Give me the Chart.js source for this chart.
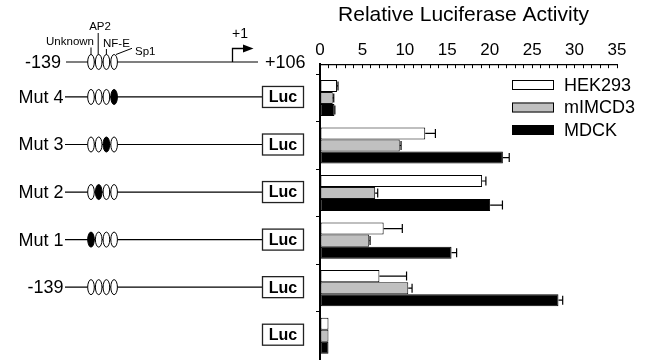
<!DOCTYPE html>
<html><head><meta charset="utf-8">
<script src="https://cdn.jsdelivr.net/npm/chart.js@4.4.1/dist/chart.umd.min.js"></script>
<style>html,body{margin:0;padding:0;background:#fff;}#wrap{width:649px;height:360px;}</style>
</head><body><div id="wrap"><canvas id="c" width="649" height="360"></canvas></div>
<script>
// ---- data ----
const categories = ['Mut 4', 'Mut 3', 'Mut 2', 'Mut 1', '-139', 'Luc'];
const hek293    = [2.0, 12.4, 19.1, 7.5, 7.0, 1.0];
const hek293Err = [0.12, 1.2, 0.45, 2.2, 3.2, 0];
const mimcd3    = [1.5, 9.4, 6.5, 5.8, 10.4, 1.0];
const mimcd3Err = [0.12, 0.15, 0.3, 0.1, 0.45, 0];
const mdck      = [1.7, 21.55, 20.05, 15.5, 28.1, 1.0];
const mdckErr   = [0.05, 0.75, 1.45, 0.6, 0.5, 0];
const xTickLabels = [0, 5, 10, 15, 20, 25, 30, 35];
const seriesNames = ['HEK293', 'mIMCD3', 'MDCK'];
const mutatedSite = [3, 2, 1, 0, -1, null]; // -1: wild type, null: no promoter
const siteNames = ['Unknown', 'AP2', 'NF-E', 'Sp1'];

const FONT = "'Liberation Sans', Arial, Helvetica, sans-serif";
Chart.defaults.font.family = FONT;
Chart.defaults.color = '#000';

const errors = [hek293Err, mimcd3Err, mdckErr];
const fills = ['#ffffff', '#c0c0c0', '#000000'];
const f = (s, w) => `${w || 'normal'} ${s}px ${FONT}`;

const errorBars = {
  id: 'errorBars',
  afterDatasetsDraw(chart) {
    const { ctx, scales: { x } } = chart;
    ctx.save();
    ctx.strokeStyle = '#000'; ctx.lineWidth = 1.2;
    chart.data.datasets.forEach((ds, di) => {
      chart.getDatasetMeta(di).data.forEach((bar, i) => {
        const e = errors[di][i];
        if (!e) return;
        const v = ds.data[i].x;
        const x0 = x.getPixelForValue(v), x1 = x.getPixelForValue(v + e), y = bar.y;
        ctx.beginPath();
        ctx.moveTo(x0, y); ctx.lineTo(x1, y);
        ctx.moveTo(x1, y - 4.5); ctx.lineTo(x1, y + 4.5);
        ctx.stroke();
      });
    });
    ctx.restore();
  }
};

const legendPlugin = {
  id: 'customLegend',
  afterDraw(chart) {
    const { ctx } = chart;
    ctx.save();
    const rows = [85, 107.5, 130];
    ctx.font = f(18);
    ctx.textBaseline = 'middle';
    ctx.textAlign = 'left';
    seriesNames.forEach((n, i) => {
      ctx.fillStyle = fills[i];
      ctx.fillRect(512, rows[i] - 5, 42, 10);
      ctx.strokeStyle = '#000'; ctx.lineWidth = 1;
      ctx.strokeRect(512.5, rows[i] - 4.5, 41, 9);
      ctx.fillStyle = '#000';
      ctx.fillText(n, 564, rows[i] + 1);
    });
    ctx.restore();
  }
};

const siteX = [91, 98.7, 106.4, 114.1];
function drawSites(ctx, y, filled) {
  siteX.forEach((cx, k) => {
    ctx.beginPath();
    ctx.ellipse(cx, y, 3.3, 7.5, 0, 0, Math.PI * 2);
    ctx.fillStyle = (k === filled) ? '#000' : '#fff';
    ctx.fill();
    ctx.lineWidth = 1; ctx.strokeStyle = '#000';
    ctx.stroke();
  });
}

const diagram = {
  id: 'diagram',
  afterDraw(chart) {
    const { ctx, scales: { y } } = chart;
    ctx.save();
    ctx.strokeStyle = '#000'; ctx.fillStyle = '#000';
    // header construct
    const hy = 62;
    ctx.font = f(18); ctx.textBaseline = 'middle'; ctx.textAlign = 'right';
    ctx.fillText('-139', 61, hy + 1);
    ctx.textAlign = 'left';
    ctx.fillText('+106', 265, hy + 1);
    ctx.lineWidth = 1.2;
    ctx.beginPath(); ctx.moveTo(66, hy); ctx.lineTo(258, hy); ctx.stroke();
    // leaders
    ctx.lineWidth = 1;
    ctx.beginPath();
    ctx.moveTo(91, 47.5); ctx.lineTo(91, 55);
    ctx.moveTo(98.2, 33); ctx.lineTo(98.2, 55);
    ctx.moveTo(106.4, 49); ctx.lineTo(106.4, 55);
    ctx.moveTo(116, 54.5); ctx.lineTo(132, 48.3);
    ctx.stroke();
    drawSites(ctx, hy, -1);
    ctx.fillStyle = '#000';
    ctx.font = f(11.5); ctx.textAlign = 'center';
    ctx.fillText(siteNames[0], 70, 42);
    ctx.fillText(siteNames[1], 100, 27);
    ctx.textAlign = 'left';
    ctx.fillText(siteNames[2], 103, 43.5);
    ctx.fillText(siteNames[3], 135, 52);
    // +1 arrow
    ctx.lineWidth = 1.3;
    ctx.beginPath(); ctx.moveTo(232.5, hy); ctx.lineTo(232.5, 48.5); ctx.lineTo(245, 48.5); ctx.stroke();
    ctx.beginPath(); ctx.moveTo(253.5, 48.5); ctx.lineTo(243, 44.5); ctx.lineTo(243, 52.5); ctx.closePath(); ctx.fill();
    ctx.font = f(14); ctx.textAlign = 'center';
    ctx.fillText('+1', 240, 34);

    // construct rows
    categories.forEach((name, i) => {
      const py = y.getPixelForValue(i) - 1;
      if (mutatedSite[i] !== null) {
        ctx.font = f(18); ctx.textAlign = 'right'; ctx.fillStyle = '#000';
        ctx.fillText(name, 63.5, py + 1);
        ctx.lineWidth = 1.2; ctx.strokeStyle = '#000';
        ctx.beginPath(); ctx.moveTo(65, py); ctx.lineTo(262, py); ctx.stroke();
        drawSites(ctx, py, mutatedSite[i]);
      }
      ctx.fillStyle = '#fff';
      ctx.fillRect(262, py - 11, 42, 22);
      ctx.lineWidth = 1.3; ctx.strokeStyle = '#222';
      ctx.strokeRect(262.5, py - 10.5, 41, 21);
      ctx.fillStyle = '#000';
      ctx.font = f(16, 'bold'); ctx.textAlign = 'center';
      ctx.fillText('Luc', 283, py + 1);
    });
    ctx.restore();
  }
};

const mk = (arr) => arr.map((v, i) => ({ x: v, y: i }));

new Chart(document.getElementById('c'), {
  type: 'bar',
  data: {
    datasets: [
      { label: seriesNames[0], data: mk(hek293), backgroundColor: fills[0], borderColor: '#000' },
      { label: seriesNames[1], data: mk(mimcd3), backgroundColor: fills[1], borderColor: '#111' },
      { label: seriesNames[2], data: mk(mdck), backgroundColor: fills[2], borderColor: '#000' }
    ]
  },
  options: {
    indexAxis: 'y',
    responsive: false,
    animation: false,
    layout: { padding: { left: 310, right: 32, top: 0, bottom: 1 } },
    datasets: { bar: { borderWidth: 1, borderSkipped: false, categoryPercentage: 0.76, barPercentage: 1 } },
    plugins: {
      legend: { display: false },
      tooltip: { enabled: false },
      title: { display: true, text: 'Relative Luciferase Activity', color: '#000',
               font: { size: 21, weight: 'normal' }, padding: { top: 3, bottom: 6 } }
    },
    scales: {
      x: {
        type: 'linear', position: 'top', min: 0, max: 35,
        ticks: { stepSize: 1, autoSkip: false, maxRotation: 0, padding: 8, font: { size: 17 }, color: '#000',
                 callback: v => (xTickLabels.includes(v) ? String(v) : '') },
        grid: { drawOnChartArea: false, drawTicks: true, tickLength: -4, color: '#000', lineWidth: 1 },
        border: { display: true, color: '#000', width: 1.3 },
        afterFit: s => { s.height = 30; }
      },
      y: {
        type: 'linear', min: -0.71, max: 5.49, reverse: true, offset: false,
        afterBuildTicks: s => { s.ticks = categories.map((c, i) => ({ value: i })); },
        ticks: { display: false },
        grid: { drawOnChartArea: false, tickLength: 4, color: '#000', lineWidth: 1 },
        border: { display: true, color: '#000', width: 2 },
        afterFit: s => { s.width = 10; }
      }
    }
  },
  plugins: [errorBars, legendPlugin, diagram]
});
</script></body></html>
